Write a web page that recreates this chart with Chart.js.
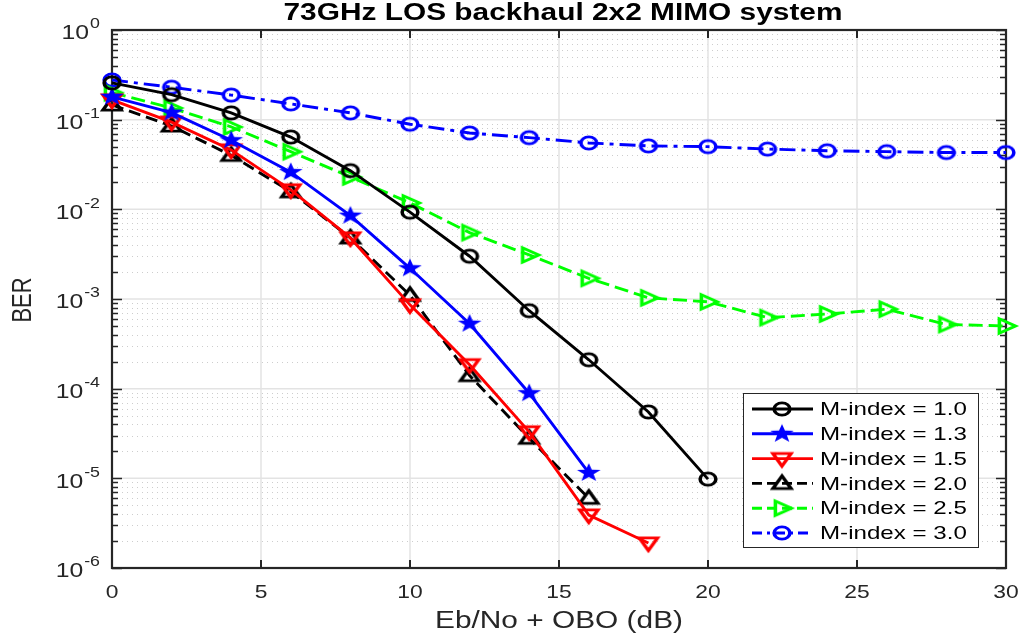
<!DOCTYPE html>
<html lang="en">
	<head>
		<meta charset="utf-8" />
		<title>73GHz LOS backhaul 2x2 MIMO system</title>
		<script src="https://cdn.jsdelivr.net/npm/chart.js@4.4.1/dist/chart.umd.min.js"></script>
		<style>
			body { margin: 0; background: #fff; }
			canvas { display: block; }
		</style>
	</head>
	<body>

		<canvas id="berChart" width="1025" height="638"></canvas>
		<script type="text/javascript">

			// Eb/No + OBO (dB) sample points
			const snr = [0, 2, 4, 6, 8, 10, 12, 14, 16, 18, 20, 22, 24, 26, 28, 30];

			// BER for each modulation index
			const ber_m10 = [0.257, 0.19, 0.119, 0.064, 0.027, 0.0093, 0.0030, 7.4e-4, 2.1e-4, 5.5e-5, 9.8e-6];
			const ber_m13 = [0.18, 0.12, 0.059, 0.026, 0.0085, 0.0022, 5.3e-4, 8.9e-5, 1.15e-5];
			const ber_m15 = [0.166, 0.094, 0.046, 0.0165, 0.0048, 8.6e-4, 1.85e-4, 3.3e-5, 3.9e-6, 1.9e-6];
			const ber_m20 = [0.146, 0.085, 0.040, 0.0157, 0.0048, 1.1e-3, 1.4e-4, 2.8e-5, 6.0e-6];
			const ber_m25 = [0.2, 0.135, 0.083, 0.044, 0.023, 0.0118, 0.0055, 0.0031, 0.0017, 1.03e-3, 9.3e-4, 6.2e-4, 6.8e-4, 7.7e-4, 5.2e-4, 5.0e-4];
			const ber_m30 = [0.277, 0.23, 0.188, 0.15, 0.119, 0.089, 0.071, 0.063, 0.055, 0.051, 0.050, 0.047, 0.045, 0.044, 0.043, 0.043];

			const seriesLabels = ['M-index = 1.0', 'M-index = 1.3', 'M-index = 1.5', 'M-index = 2.0', 'M-index = 2.5', 'M-index = 3.0'];

			// axis ticks
			const xTicks = [0, 5, 10, 15, 20, 25, 30];
			const yDecades = [0, -1, -2, -3, -4, -5, -6];

			const SX = 1.27; // horizontal stretch for text and markers
			const AXIS = '#262626';
			const FONT = '"Liberation Sans", Arial, sans-serif';

			// marker images
			function makeMarker(kind, color)
			{
				const c = document.createElement('canvas');
				c.width = 32;
				c.height = 28;
				const g = c.getContext('2d');
				g.translate(16, 14);
				g.scale(SX, 1);
				g.strokeStyle = color;
				g.fillStyle = color;
				g.lineWidth = 2.8;
				g.lineJoin = 'miter';
				g.beginPath();
				if (kind === 'circle') {
					g.arc(0, 0, 6.2, 0, Math.PI * 2);
					g.stroke();
				} else if (kind === 'star') {
					for (let i = 0; i < 10; i++) {
						const r = i % 2 === 0 ? 9.8 : 4.0;
						const a = -Math.PI / 2 + i * Math.PI / 5;
						g.lineTo(r * Math.cos(a), r * Math.sin(a));
					}
					g.closePath();
					g.fill();
				} else {
					const rot = { up: 0, down: Math.PI, right: Math.PI / 2 }[kind];
					g.rotate(rot);
					g.moveTo(0, -7.5);
					g.lineTo(7.2, 5.2);
					g.lineTo(-7.2, 5.2);
					g.closePath();
					g.stroke();
				}
				return c;
			}

			const styles = [
				{ color: '#000000', marker: makeMarker('circle', '#000000'), dash: [] },
				{ color: '#0000ff', marker: makeMarker('star', '#0000ff'), dash: [] },
				{ color: '#ff0000', marker: makeMarker('down', '#ff0000'), dash: [] },
				{ color: '#000000', marker: makeMarker('up', '#000000'), dash: [12, 6] },
				{ color: '#00ff00', marker: makeMarker('right', '#00ff00'), dash: [14, 6] },
				{ color: '#0000ff', marker: makeMarker('circle', '#0000ff'), dash: [16, 6, 4, 6] }
			];

			const seriesData = [ber_m10, ber_m13, ber_m15, ber_m20, ber_m25, ber_m30];

			const datasets = seriesData.map((vals, i) => ({
				label: seriesLabels[i],
				data: vals.map((v, j) => ({ x: snr[j], y: v })),
				borderColor: styles[i].color,
				borderWidth: 2.9,
				borderDash: styles[i].dash,
				pointStyle: styles[i].marker,
				pointRadius: 8,
				fill: false,
				tension: 0,
				clip: false
			}));

			function drawText(ctx, txt, x, y, font, align, color)
			{
				ctx.save();
				ctx.translate(x, y);
				ctx.scale(SX, 1);
				ctx.font = font;
				ctx.fillStyle = color;
				ctx.textAlign = align;
				ctx.textBaseline = 'middle';
				ctx.fillText(txt, 0, 0);
				ctx.restore();
			}

			// grid, box and ticks under the curves
			const axesPlugin = {
				id: 'axesPlugin',
				beforeDatasetsDraw(chart) {
					const ctx = chart.ctx;
					const xs = chart.scales.x;
					const ys = chart.scales.y;
					const { left, right, top, bottom } = chart.chartArea;

					ctx.save();
					// minor grid
					ctx.strokeStyle = '#cdcdcd';
					ctx.lineWidth = 1;
					ctx.setLineDash([1, 4]);
					for (let d = -6; d < 0; d++) {
						for (let k = 2; k <= 9; k++) {
							const py = Math.round(ys.getPixelForValue(k * Math.pow(10, d))) + 0.5;
							ctx.beginPath();
							ctx.moveTo(left, py);
							ctx.lineTo(right, py);
							ctx.stroke();
						}
					}
					// major grid
					ctx.setLineDash([]);
					ctx.strokeStyle = '#e3e3e3';
					ctx.lineWidth = 1.5;
					yDecades.forEach(d => {
						const py = ys.getPixelForValue(Math.pow(10, d));
						ctx.beginPath();
						ctx.moveTo(left, py);
						ctx.lineTo(right, py);
						ctx.stroke();
					});
					xTicks.forEach(v => {
						const px = xs.getPixelForValue(v);
						ctx.beginPath();
						ctx.moveTo(px, top);
						ctx.lineTo(px, bottom);
						ctx.stroke();
					});

					// tick marks
					ctx.strokeStyle = AXIS;
					ctx.lineWidth = 2;
					xTicks.forEach(v => {
						const px = xs.getPixelForValue(v);
						ctx.beginPath();
						ctx.moveTo(px, bottom);
						ctx.lineTo(px, bottom - 8);
						ctx.moveTo(px, top);
						ctx.lineTo(px, top + 8);
						ctx.stroke();
					});
					ctx.lineWidth = 1.5;
					for (let d = -6; d <= 0; d++) {
						for (let k = 1; k <= 9; k++) {
							if (d === 0 && k > 1) break;
							const py = Math.round(ys.getPixelForValue(k * Math.pow(10, d))) + 0.5;
							const len = k === 1 ? 10 : 6;
							ctx.beginPath();
							ctx.moveTo(left, py);
							ctx.lineTo(left + len, py);
							ctx.moveTo(right, py);
							ctx.lineTo(right - len, py);
							ctx.stroke();
						}
					}

					// box
					ctx.lineWidth = 2.2;
					ctx.strokeRect(left, top, right - left, bottom - top);

					// tick labels
					xTicks.forEach(v => {
						drawText(ctx, String(v), xs.getPixelForValue(v), 593, '18px ' + FONT, 'center', AXIS);
					});
					yDecades.forEach(d => {
						const py = ys.getPixelForValue(Math.pow(10, d));
						const exp = String(d);
						ctx.font = '14px ' + FONT;
						const ew = ctx.measureText(exp).width * SX;
						const ex = 100 - ew;
						drawText(ctx, exp, ex, py - 5.5, '14px ' + FONT, 'left', AXIS);
						drawText(ctx, '10', ex - 1, py + 4, '19.5px ' + FONT, 'right', AXIS);
					});

					// axis titles
					drawText(ctx, 'Eb/No + OBO (dB)', 559, 622, '23.5px ' + FONT, 'center', AXIS);
					ctx.save();
					ctx.translate(23, 300);
					ctx.scale(SX, 1);
					ctx.rotate(-Math.PI / 2);
					ctx.font = '22px ' + FONT;
					ctx.fillStyle = AXIS;
					ctx.textAlign = 'center';
					ctx.textBaseline = 'middle';
					ctx.fillText('BER', 0, 0);
					ctx.restore();

					// title
					drawText(ctx, '73GHz LOS backhaul 2x2 MIMO system', 563, 14, 'bold 23.5px ' + FONT, 'center', '#000');
					ctx.restore();
				}
			};

			// legend box in the lower right
			const legendPlugin = {
				id: 'legendBox',
				afterDatasetsDraw(chart) {
					const ctx = chart.ctx;
					ctx.save();
					ctx.fillStyle = '#ffffff';
					ctx.fillRect(743, 393, 235, 154);
					ctx.strokeStyle = AXIS;
					ctx.lineWidth = 1;
					ctx.strokeRect(743.5, 393.5, 235, 154);
					seriesLabels.forEach((lab, i) => {
						const cy = 409 + i * 24.8;
						ctx.strokeStyle = styles[i].color;
						ctx.lineWidth = 2.9;
						ctx.setLineDash(styles[i].dash.length ? [10, 5].concat(i === 5 ? [3, 5] : []) : []);
						ctx.beginPath();
						ctx.moveTo(752, cy);
						ctx.lineTo(813, cy);
						ctx.stroke();
						ctx.setLineDash([]);
						const m = styles[i].marker;
						ctx.drawImage(m, 782 - m.width / 2, cy - m.height / 2);
						drawText(ctx, lab, 820, cy + 1, '19px ' + FONT, 'left', '#000');
					});
					ctx.restore();
				}
			};

			const ctx = document.getElementById('berChart').getContext('2d');
			const berChart = new Chart(ctx, {
				type: 'line',
				data: { datasets: datasets },
				options: {
					responsive: false,
					animation: false,
					events: [],
					layout: { padding: { left: 112, right: 19, top: 30, bottom: 70 } },
					plugins: {
						legend: { display: false },
						title: { display: false },
						tooltip: { enabled: false }
					},
					scales: {
						x: { type: 'linear', min: 0, max: 30, display: false },
						y: { type: 'logarithmic', min: 1e-6, max: 1, display: false }
					}
				},
				plugins: [axesPlugin, legendPlugin]
			});
		</script>
	</body>
</html>
